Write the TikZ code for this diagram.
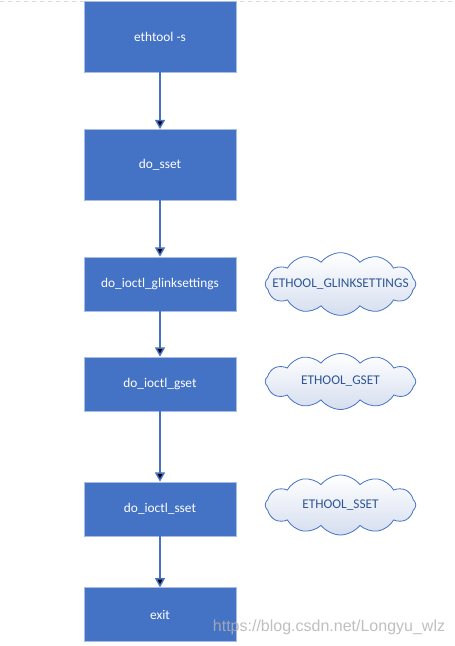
\documentclass[tikz,border=0pt]{standalone}
\usepackage{fontspec}
\setmainfont{Carlito}
\newfontfamily\markfont{Liberation Sans}
\usetikzlibrary{shapes.symbols,arrows.meta}
\definecolor{boxblue}{HTML}{4472C4}
\definecolor{boxedge}{HTML}{A9BDE4}
\definecolor{cloudtext}{HTML}{2F5597}
\definecolor{cloudfill}{HTML}{D5DEEF}

\begin{document}
\begin{tikzpicture}[x=0.75pt,y=-0.75pt,>={Triangle[width=7.5pt,length=7pt]}]
    \tikzstyle{every node}=[font=\fontsize{10}{12}\selectfont]
    \tikzstyle{func}=[rectangle,fill=boxblue,draw=boxedge,line width=0.5pt,text=white,minimum width=114pt,inner sep=0pt]
    \tikzstyle{flow}=[->,draw=boxblue,line width=1.1pt]
    \tikzstyle{cmd}=[cloud,cloud puffs=12,cloud puff arc=105,aspect=3,draw=boxblue,line width=0.6pt,top color=white,bottom color=cloudfill,inner sep=0pt]
    \tikzstyle{annot}=[text=cloudtext]

    \useasboundingbox (0,0) rectangle (454,646);
    % page edge
    \draw[black!15,dashed,line width=0.6pt] (0,1) -- (454,1);

    % Draw the call chain
    \node[func,minimum height=53pt] (F-1) at (160,36.8) {ethtool -s};
    \node[func,minimum height=53pt] (F-2) at (160,164.8) {do\_sset};
    \foreach \name / \y / \txt in {3/284/do\_ioctl\_glinksettings,4/384/do\_ioctl\_gset,5/509/do\_ioctl\_sset,6/614.7/exit}
        \node[func,minimum height=40.5pt] (F-\name) at (160,\y) {\txt};

    % Connect each step with the next one
    \foreach \source / \dest in {1/2,2/3,3/4,4/5,5/6}
        \path[flow] (F-\source) edge (F-\dest);

    % The ioctl commands
    \foreach \name / \y / \h / \txt in {1/284/47/ETHOOL\_GLINKSETTINGS,2/381.5/42/ETHOOL\_GSET,3/505/45/ETHOOL\_SSET}
    {
        \node[cmd,minimum width=113pt,minimum height=\h pt] (C-\name) at (340.5,\y) {};
        \node[annot] (T-\name) at (C-\name.center) {\txt};
    }

    % watermark
    \node[font=\markfont\fontsize{12}{14}\selectfont,text=black!30,opacity=0.83] (mark) at (329,627) {https://blog.csdn.net/Longyu\_wlz};
\end{tikzpicture}
\end{document}
